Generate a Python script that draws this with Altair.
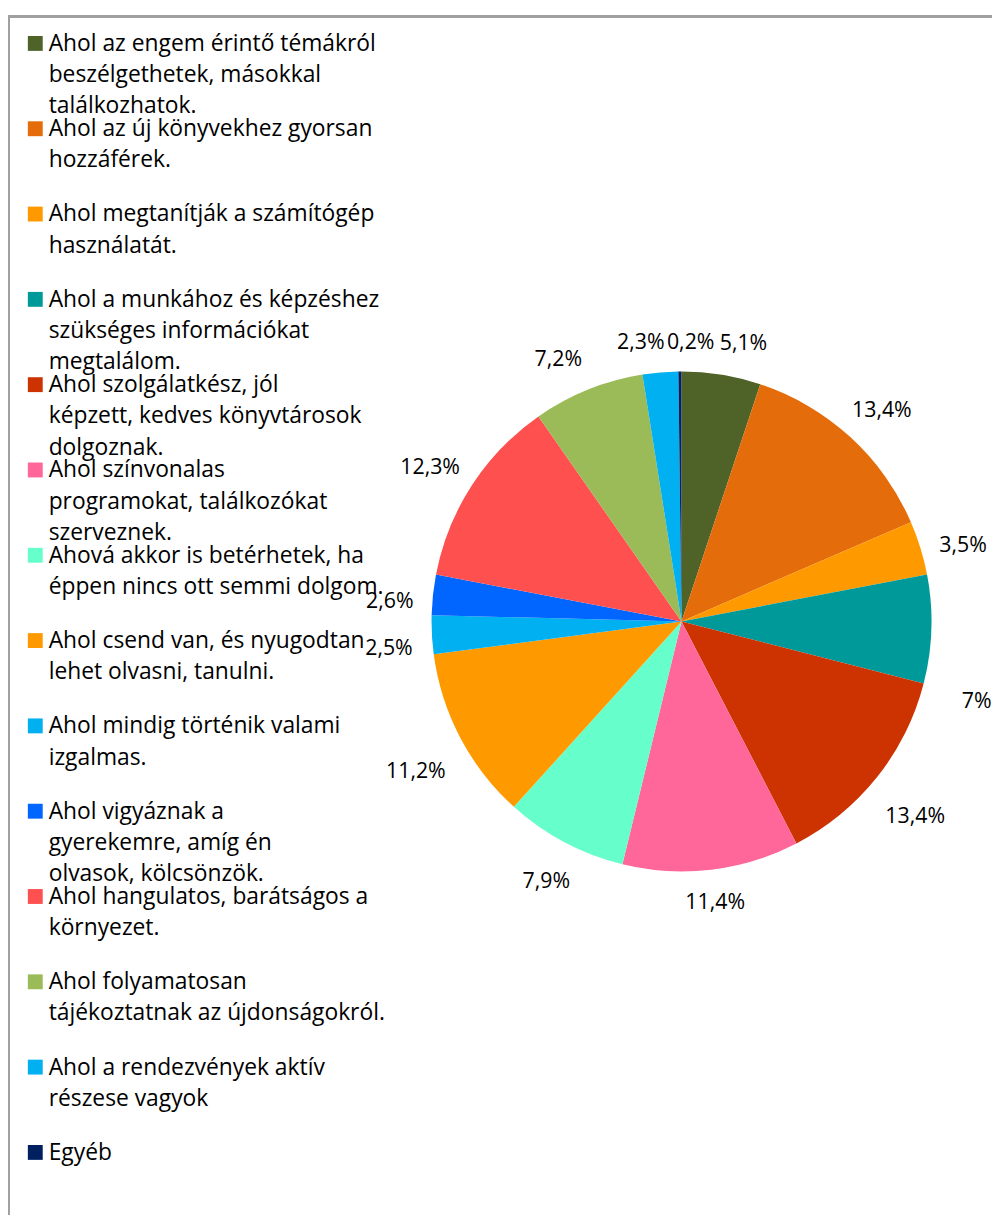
import altair as alt
import pandas as pd

labels = [
    "Ahol az engem érintő témákról\nbeszélgethetek, másokkal\ntalálkozhatok.",
    "Ahol az új könyvekhez gyorsan\nhozzáférek.",
    "Ahol megtanítják a számítógép\nhasználatát.",
    "Ahol a munkához és képzéshez\nszükséges információkat\nmegtalálom.",
    "Ahol szolgálatkész, jól\nképzett, kedves könyvtárosok\ndolgoznak.",
    "Ahol színvonalas\nprogramokat, találkozókat\nszerveznek.",
    "Ahová akkor is betérhetek, ha\néppen nincs ott semmi dolgom.",
    "Ahol csend van, és nyugodtan\nlehet olvasni, tanulni.",
    "Ahol mindig történik valami\nizgalmas.",
    "Ahol vigyáznak a\ngyerekemre, amíg én\nolvasok, kölcsönzök.",
    "Ahol hangulatos, barátságos a\nkörnyezet.",
    "Ahol folyamatosan\ntájékoztatnak az újdonságokról.",
    "Ahol a rendezvények aktív\nrészese vagyok",
    "Egyéb",
]
values = [5.1, 13.4, 3.5, 7.0, 13.4, 11.4, 7.9, 11.2, 2.5, 2.6, 12.3, 7.2, 2.3, 0.2]
colors = ["#4F6228", "#E46C0A", "#FF9900", "#009999", "#CC3300", "#FF6699", "#66FFCC",
          "#FF9900", "#00B0F0", "#0066FF", "#FF5050", "#9BBB59", "#00B0F0", "#002060"]

df = pd.DataFrame({"idx": list(range(len(values))), "label": labels,
                   "value": values, "color": colors})

FONT = "Open Sans"
FS_LEG = 23
FS_LAB = 21.5
CX, CY, R = 679, 613.5, 252
W, H = 992, 1212

base = alt.Chart(df)

pie = base.mark_arc(radius=R).encode(
    theta=alt.Theta("value:Q", stack=True),
    color=alt.Color("color:N", scale=None),
    order=alt.Order("idx:Q"),
    x=alt.value(CX),
    y=alt.value(CY),
)

# label placement: outside end, nudged apart where Excel moved labels to avoid collisions
pie_labels = base.transform_joinaggregate(
    total="sum(value)"
).transform_window(
    cum="sum(value)", sort=[alt.SortField("idx")], frame=[None, 0]
).transform_calculate(
    mid="(datum.cum - datum.value/2)/datum.total*2*PI",
    lbl="replace(format(datum.value, '.1~f'), '.', ',') + '%'",
).transform_calculate(
    r=f"{R} + 18 + length(datum.lbl)*6.2*abs(sin(datum.mid)) + 11*abs(cos(datum.mid))",
    ndx="datum.idx == 12 ? -17 : datum.idx == 13 ? 11 : datum.idx == 0 ? 17 : "
        "datum.idx == 3 ? 15 : datum.idx == 11 ? -16 : 0",
    ndy="datum.idx == 3 ? 60 : 0",
).transform_calculate(
    lx=f"{CX} + datum.r*sin(datum.mid) + datum.ndx",
    ly=f"{CY} - datum.r*cos(datum.mid) + 12*abs(sin(datum.mid)) + datum.ndy",
).mark_text(font=FONT, fontSize=FS_LAB, color="#000000", align="center", baseline="middle").encode(
    x=alt.X("lx:Q", scale=None, axis=None),
    y=alt.Y("ly:Q", scale=None, axis=None),
    text="lbl:N",
)

leg = base.transform_calculate(legy="30.8 + datum.idx*86")

leg_sq = leg.mark_square(size=225, opacity=1, shape="square").encode(
    x=alt.value(27.5),
    y=alt.Y("legy:Q", scale=None, axis=None),
    color=alt.Color("color:N", scale=None),
)

leg_txt = leg.mark_text(font=FONT, fontSize=FS_LEG, color="#000000", align="left",
                        baseline="alphabetic", lineBreak="\n", lineHeight=31.5, dy=7.5).encode(
    x=alt.value(41),
    y=alt.Y("legy:Q", scale=None, axis=None),
    text="label:N",
)

border_left = base.mark_rule(color="#A0A0A0", strokeWidth=2).encode(
    x=alt.value(0.5), y=alt.value(4), y2=alt.value(H)
)
border_top = base.mark_rule(color="#A0A0A0", strokeWidth=2).encode(
    x=alt.value(0), x2=alt.value(W), y=alt.value(4)
)

chart = alt.layer(border_left, border_top, pie, pie_labels, leg_sq, leg_txt).properties(
    width=W, height=H, padding=0, autosize="none"
).configure_view(strokeWidth=0)

chart.save("out.html", embed_options={"renderer": "svg", "actions": False})
